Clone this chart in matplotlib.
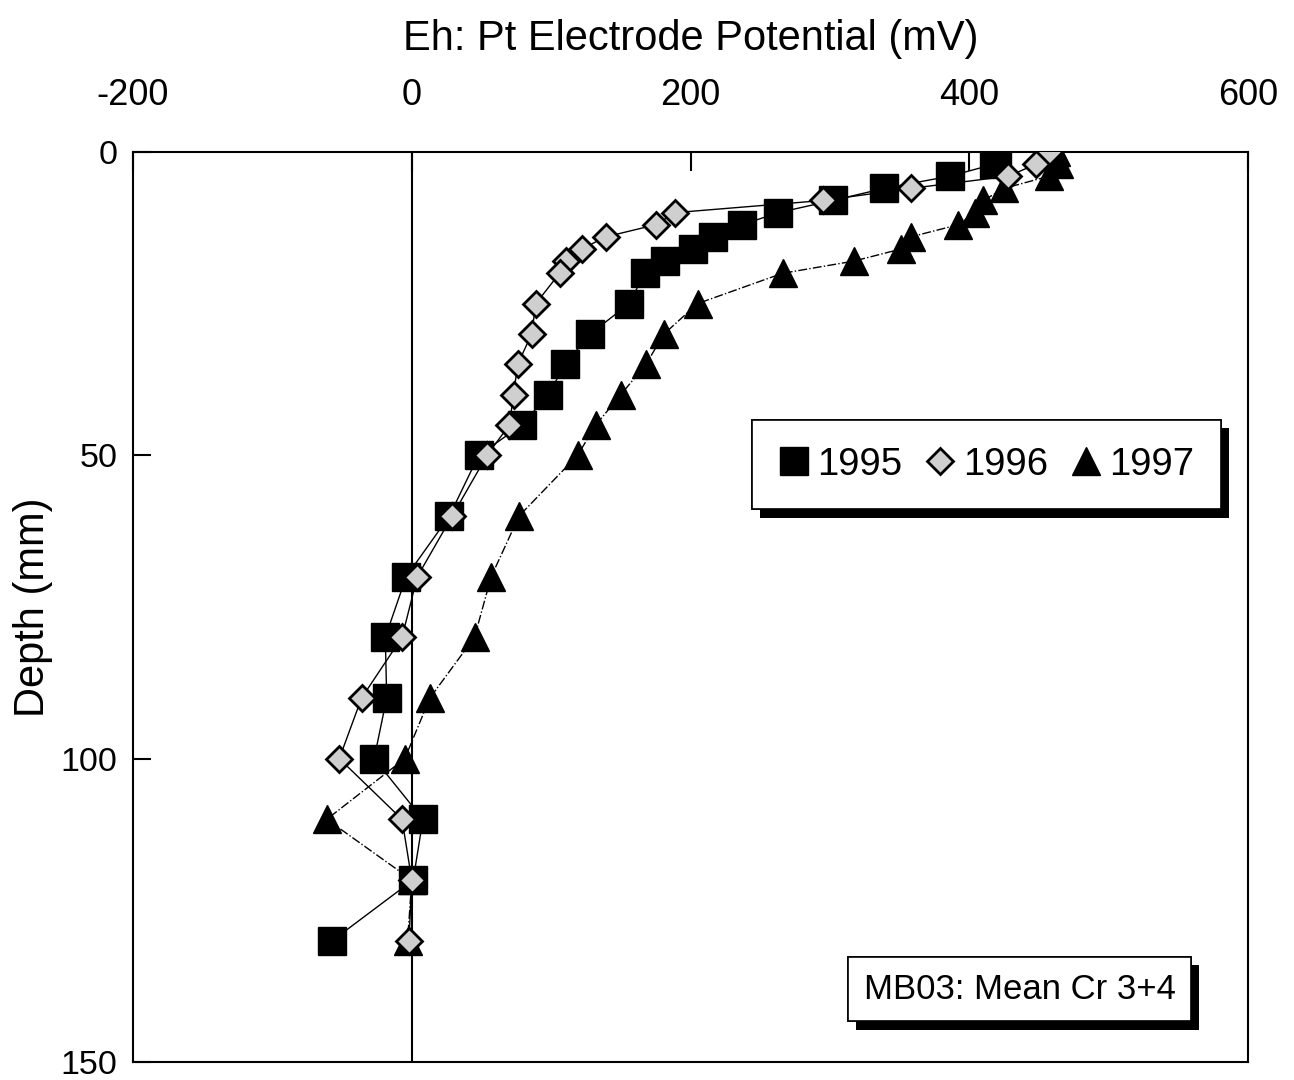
import matplotlib
matplotlib.use("Agg")
import matplotlib.pyplot as plt
import matplotlib.patheffects as pe

plt.rcParams['font.family'] = ['Liberation Sans', 'DejaVu Sans']
plt.rcParams['axes.unicode_minus'] = False

# depth (mm) and Eh (mV)
depth = [0, 2, 4, 6, 8, 10, 12, 14, 16, 18, 20, 25, 30, 35, 40, 45, 50,
         60, 70, 80, 90, 100, 110, 120, 130]
eh_1995 = [420, 418, 386, 339, 302, 263, 237, 216, 202, 182, 167, 156, 128,
           110, 98, 79, 48, 27, -4, -19, -18, -27, 8, 1, -57]
eh_1996 = [457, 448, 428, 358, 295, 189, 175, 139, 122, 111, 106, 89, 86,
           76, 73, 70, 54, 29, 4, -7, -36, -52, -7, 0, -2]
eh_1997 = [462, 464, 457, 425, 410, 404, 392, 358, 351, 317, 266, 205, 181,
           168, 150, 132, 119, 77, 57, 45, 13, -5, -61, 0, -3]

xticks = [-200, 0, 200, 400, 600]
yticks = [0, 50, 100, 150]

fig = plt.figure(figsize=(12.94, 10.8), dpi=100)
ax = fig.add_axes([0.1028, 0.0167, 0.8617, 0.8426])

ax.axvline(0, color='black', lw=1.5, zorder=1)

ax.plot(eh_1995, depth, color='black', lw=1, ls='-', marker='s', ms=19.5,
        mfc='black', mec='black', label='1995', zorder=3)
ax.plot(eh_1996, depth, color='black', lw=1, ls='-', marker='D', ms=13.5,
        mfc='#cfcfcf', mec='black', mew=2, label='1996', zorder=4)
ax.plot(eh_1997, depth, color='black', lw=1, ls='-.', marker='^', ms=20,
        mfc='black', mec='black', label='1997', zorder=3)

ax.set_xlim(-200, 600)
ax.set_ylim(150, 0)
ax.set_xticks(xticks)
ax.set_yticks(yticks)
ax.xaxis.tick_top()
ax.xaxis.set_label_position('top')
ax.tick_params(axis='x', direction='in', length=14, width=1.5, pad=28,
               labelsize=26)
ax.tick_params(axis='y', direction='in', length=13, width=1.5, pad=11,
               labelsize=24.5)
ax.set_xlabel('Eh: Pt Electrode Potential (mV)', fontsize=30, labelpad=20)
ax.set_ylabel('Depth (mm)', fontsize=30, labelpad=6)
for s in ax.spines.values():
    s.set_linewidth(1.5)

shadow = [pe.withSimplePatchShadow(offset=(6, -6), shadow_rgbFace='black',
                                   alpha=1), pe.Normal()]

leg = ax.legend(loc='upper left', bbox_to_anchor=(0.555, 0.7055), ncol=3,
                fontsize=27.5, frameon=True, fancybox=False, edgecolor='black',
                framealpha=1, borderaxespad=0, handlelength=0.8,
                handletextpad=0.2, columnspacing=0.6, borderpad=0.7)
for h in leg.get_lines():
    h.set_linestyle('none')
leg.get_frame().set_linewidth(1.2)
leg.get_frame().set_path_effects(shadow)

t = ax.text(0.795, 0.08, 'MB03: Mean Cr 3+4', transform=ax.transAxes,
            ha='center', va='center', fontsize=25,
            bbox=dict(boxstyle='square,pad=0.45', fc='white', ec='black',
                      lw=1.2))
t.get_bbox_patch().set_path_effects(shadow)

fig.savefig('out.png', dpi=100)
